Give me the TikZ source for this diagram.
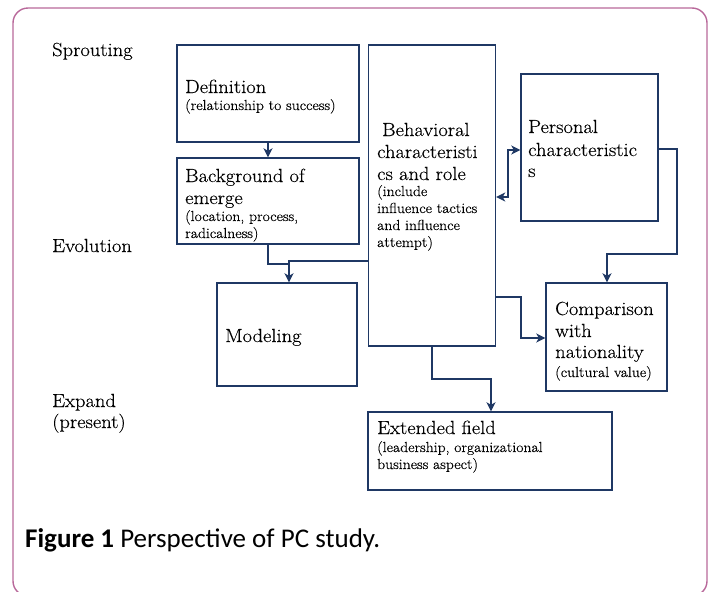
\documentclass[tikz,border=0pt]{standalone}
\usepackage{fontspec}
\setmainfont{Latin Modern Roman}[FakeStretch=1.08, FakeBold=0.3]
\newfontfamily\capfont{Carlito}
\usetikzlibrary{arrows.meta}
\definecolor{navy}{HTML}{1F3864}
\definecolor{framepink}{HTML}{B8689A}
\tikzset{
  box/.style={draw=navy, line width=1.4pt, inner sep=0pt},
  big/.style={font=\fontsize{19}{22}\selectfont, inner sep=0pt, anchor=base west},
  small/.style={font=\fontsize{14.5}{17}\selectfont, inner sep=0pt, anchor=base west},
  tip/.tip={Stealth[length=9pt,width=9pt,inset=2.5pt]},
  link/.style={draw=navy, line width=1.8pt, -tip},
  twoway/.style={draw=navy, line width=1.8pt, tip-tip},
  plain/.style={draw=navy, line width=1.8pt}
}
\begin{document}
\begin{tikzpicture}[x=1pt,y=-1pt]
\useasboundingbox (0,0) rectangle (713,592);
% outer frame
\draw[framepink, line width=1.4pt, rounded corners=15pt] (13,8) rectangle (707,596);

% stage labels
\node[big] (sprout) at (52,56) {Sprouting};
\node[big] (evol) at (52,252) {Evolution};
\node[big] (expand) at (52,407) {Expand};
\node[big] (present) at (52,428) {(present)};

% boxes
\node[box, minimum width=182pt, minimum height=97pt] (defbox) at (268,93.5) {};
\node[box, minimum width=182pt, minimum height=86pt] (bgbox) at (268,201) {};
\node[box, minimum width=140pt, minimum height=103pt] (modbox) at (287,334.5) {};
\node[box, minimum width=127pt, minimum height=301pt] (behbox) at (432,195.5) {};
\node[box, minimum width=137pt, minimum height=147pt] (perbox) at (589.5,147.5) {};
\node[box, minimum width=121pt, minimum height=108pt] (cmpbox) at (606.5,337) {};
\node[box, minimum width=244pt, minimum height=78pt] (extbox) at (490,451) {};

% box texts
\node[big] (t1) at (185,93) {Definition};
\node[small] (t2) at (185,110) {(relationship to success)};

\node[big] (t3) at (185,182) {Background of};
\node[big] (t4) at (185,204) {emerge};
\node[small] (t5) at (185,221) {(location, process,};
\node[small] (t6) at (185,238) {radicalness)};

\node[big] (t7) at (225,342) {Modeling};

\node[big] (t8) at (382,136) {Behavioral};
\node[big] (t9) at (377,158) {characteristi};
\node[big] (t10) at (377,180) {cs and role};
\node[small] (t11) at (377,196) {(include};
\node[small] (t12) at (377,213) {influence tactics};
\node[small] (t13) at (377,230) {and influence};
\node[small] (t14) at (377,247) {attempt)};

\node[big] (t15) at (528,133) {Personal};
\node[big] (t16) at (528,156) {characteristic};
\node[big] (t17) at (528,177) {s};

\node[big] (t18) at (555,315) {Comparison};
\node[big] (t19) at (555,337) {with};
\node[big] (t20) at (555,358) {nationality};
\node[small] (t21) at (555,377) {(cultural value)};

\node[big] (t22) at (377,434) {Extended field};
\node[small] (t23) at (377,452) {(leadership, organizational};
\node[small] (t24) at (377,469) {business aspect)};

% caption
\node[font=\capfont\fontsize{27}{31}\selectfont, inner sep=0pt, anchor=base west] (cap) at (25,547) {\textbf{Figure 1} Perspective of PC study.};

% connectors
\draw[link] (defbox.south) -- (bgbox.north);
\draw[plain] (bgbox.south) -- ++(0,19) -| (289,270);
\draw[link] (behbox.west |- 0,261) -| (modbox.north -| 289,0);
\draw[twoway] (behbox.east |- 0,197) -| (508,150) -- (perbox.west |- 0,150);
\draw[link] (perbox.east |- 0,149) -| (677,254) -| (cmpbox.north -| 607,0);
\draw[link] (behbox.east |- 0,297) -| (521,338) -- (cmpbox.west |- 0,338);
\draw[link] (behbox.south -| 432,0) |- (491,379) -- (extbox.north -| 491,0);
\end{tikzpicture}
\end{document}
